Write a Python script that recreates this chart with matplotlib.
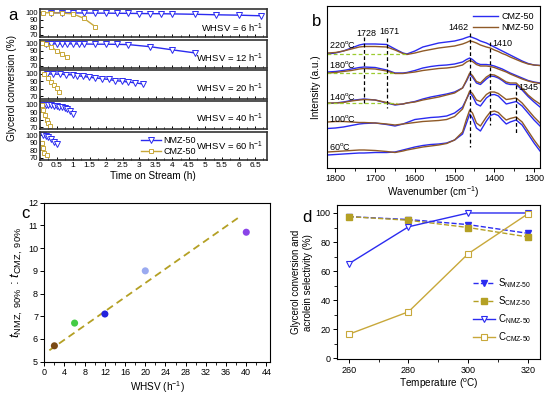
import matplotlib
matplotlib.use('Agg')
import matplotlib.pyplot as plt
from matplotlib.ticker import MultipleLocator, FuncFormatter

plt.rcParams['font.family'] = ['Liberation Sans', 'DejaVu Sans']
plt.rcParams['mathtext.fontset'] = 'custom'
plt.rcParams['mathtext.rm'] = 'Liberation Sans'
plt.rcParams['mathtext.it'] = 'Liberation Sans:italic'
plt.rcParams['mathtext.bf'] = 'Liberation Sans:bold'

# ---------------- Panel a data ----------------
whsv_labels = ['6', '12', '20', '40', '60']
nmz6_t = [0.33, 0.67, 1.0, 1.33, 1.67, 2.0, 2.33, 2.67, 3.0, 3.33, 3.67, 4.0, 4.67, 5.33, 6.0, 6.67]
nmz6_v = [99.5, 99.5, 99.3, 99.2, 99, 99, 98.8, 98.7, 98.5, 98.3, 98.2, 98, 97.5, 96.8, 96.3, 95.5]
cmz6_t = [0.1, 0.33, 0.67, 1.0, 1.33, 1.67]
cmz6_v = [99.5, 99.5, 99, 98, 92, 81]
nmz12_t = [0.17, 0.33, 0.5, 0.67, 0.83, 1.0, 1.17, 1.33, 1.67, 2.0, 2.33, 2.67, 3.33, 4.0, 4.67]
nmz12_v = [99, 99, 99, 99, 99, 99, 98.8, 98.8, 98.5, 98.5, 98.3, 98, 95.2, 91, 87]
cmz12_t = [0.05, 0.17, 0.33, 0.5, 0.67, 0.83]
cmz12_v = [100, 99, 95, 90, 86, 81]
nmz20_t = [0.2, 0.4, 0.6, 0.8, 1.0, 1.13, 1.3, 1.47, 1.67, 1.87, 2.07, 2.27, 2.47, 2.67, 2.87, 3.1]
nmz20_v = [100, 99.5, 99.5, 99, 98.5, 97.5, 96.5, 95.5, 94.5, 93.5, 92.5, 91, 90, 89, 88, 86.5]
cmz20_t = [0.12, 0.25, 0.33, 0.42, 0.5, 0.58]
cmz20_v = [100, 94, 89, 85, 81, 76]
nmz40_t = [0.08, 0.17, 0.25, 0.33, 0.42, 0.5, 0.58, 0.67, 0.75, 0.83, 0.92, 1.0]
nmz40_v = [99.5, 99.5, 99.3, 99, 98.5, 98, 97.3, 96.5, 95.5, 94, 91.5, 87]
cmz40_t = [0.05, 0.1, 0.15, 0.2, 0.25, 0.3]
cmz40_v = [99, 93, 86, 80, 75, 72]
nmz60_t = [0.08, 0.17, 0.25, 0.33, 0.42, 0.5]
nmz60_v = [100, 99, 97, 94.5, 91, 88]
cmz60_t = [0.05, 0.1, 0.13, 0.2]
cmz60_v = [90, 83, 76, 74]

nmz_t = [nmz6_t, nmz12_t, nmz20_t, nmz40_t, nmz60_t]
nmz_v = [nmz6_v, nmz12_v, nmz20_v, nmz40_v, nmz60_v]
cmz_t = [cmz6_t, cmz12_t, cmz20_t, cmz40_t, cmz60_t]
cmz_v = [cmz6_v, cmz12_v, cmz20_v, cmz40_v, cmz60_v]

# ---------------- Panel b data (read offsets, top of plot = small values) ----------------
wn = [1820, 1800, 1780, 1760, 1740, 1728, 1700, 1671, 1650, 1630, 1620, 1600, 1580, 1560, 1540,
      1520, 1500, 1480, 1470, 1462, 1455, 1445, 1435, 1420, 1410, 1400, 1390, 1380, 1370, 1360,
      1345, 1330, 1315, 1300, 1285]
temps = ['220', '180', '140', '100', '60']
cmz_220 = [54, 53, 51, 48, 45, 44, 44, 44.5, 49, 53, 54, 51, 47, 45, 43, 42, 41, 39, 37.5, 36.5,
           37.5, 39, 41, 43, 45, 47, 49, 51, 53, 55, 58, 61, 63.5, 65, 65.5]
nmz_220 = [53, 52.5, 51, 49, 47, 46.5, 46.5, 47, 50, 53.5, 54.5, 53, 51, 49.5, 48, 47, 46, 44, 42.5, 41,
           41.5, 43, 45, 47, 48, 50, 51.5, 53.5, 55, 57, 59.5, 62, 64, 65, 65.5]
cmz_180 = [72, 71.5, 70.5, 69, 67.5, 67, 67.5, 70, 73, 73, 72.5, 70.5, 68, 66.5, 65.5, 65, 64, 62, 59.5, 58,
           59.5, 63, 64.5, 64.5, 65, 66, 67.5, 69, 71, 73, 75.5, 78, 80.5, 82, 83]
nmz_180 = [73, 72.5, 71.5, 70.5, 69, 68.5, 69, 71, 73.5, 73.5, 73, 72, 70.5, 69.5, 68.5, 68, 67, 65, 62, 60.5,
           61.5, 64.5, 66, 66, 66.5, 67.5, 69, 70.5, 72, 74, 76.5, 79, 81, 82.5, 83.5]
cmz_140 = [103.5, 103, 102, 100.5, 99.5, 99, 100, 103, 105, 104, 103, 101.5, 99, 97, 95.5, 94, 92, 88, 81, 74.5,
           77, 83, 84.5, 79, 76, 76.5, 78, 80.5, 83.5, 84.5, 84.5, 90, 96.5, 102, 107]
nmz_140 = [103, 103, 102.5, 101, 100, 99.5, 100, 102.5, 104.5, 104, 103, 102, 100, 98.5, 97, 95, 93, 88, 80, 73,
           75.5, 81.5, 83, 77, 74.5, 75, 77, 79.5, 82, 83, 83, 88.5, 95, 100, 104]
cmz_100 = [128.5, 128, 127, 125.5, 124, 123.5, 123, 124.5, 126, 124, 122.5, 119.5, 118.5, 117.5, 117, 116, 113, 107, 99, 93,
           96, 104, 106, 98, 95, 94.5, 96, 100, 104, 103, 101.5, 106, 113, 120, 126]
nmz_100 = [122, 121.5, 121.5, 122, 122.5, 122.5, 123, 124, 125, 124, 123.5, 122.5, 121.5, 121, 120.5, 119.5, 116.5, 109, 99, 91,
           93.5, 100, 101.5, 94.5, 92, 92, 93.5, 96.5, 99.5, 99, 98, 103, 110, 117, 123]
cmz_60 = [155, 154.5, 154, 153.5, 153, 153, 152.5, 152.5, 152, 150, 149, 147, 145.5, 144.5, 144, 143, 140, 134, 123, 114,
          118, 128, 131, 121, 115.5, 114, 115.5, 120, 124, 122, 120, 125, 134, 143, 151]
nmz_60 = [152, 151.5, 151, 150.5, 150, 150, 150.5, 151.5, 152.5, 151, 150, 148.5, 147, 146, 145, 143.5, 140, 132, 119, 110,
          113, 123, 126, 117, 112, 111, 112.5, 116.5, 120, 118.5, 117, 122, 131, 140, 148]
cmz_b = [cmz_220, cmz_180, cmz_140, cmz_100, cmz_60]
nmz_b = [nmz_220, nmz_180, nmz_140, nmz_100, nmz_60]
temp_label_y = [44, 64, 96, 118, 147]
peak_wn = [1728, 1671, 1462, 1410, 1345]
peak_top = [37, 38, 33, 42, 85]
peak_bot = [103, 108, 147, 125, 133]
green_y = [54, 73.5, 103.5]
green_end = [1620, 1650, 1645]

# ---------------- Panel c data ----------------
whsv_c = [2, 6, 12, 20, 40]
ratio_c = [5.7, 6.7, 7.1, 9.0, 10.7]
colors_c = ['#7a4a14', '#44cc44', '#2222dd', '#9aaaf0', '#8a44e8']
fit_x = [1.0, 38.5]
fit_y = [5.5, 11.35]

# ---------------- Panel d data ----------------
temp_d = [260, 280, 300, 320]
s_nmz = [97.5, 95.5, 92, 86]
s_cmz = [97.5, 95, 90, 83.5]
c_nmz = [65, 90.5, 100, 100]
c_cmz = [16.5, 32, 72, 99.5]

BLUE = '#2b2bf0'
GOLD = '#c8a83a'
BROWN = '#8f5a28'
OLIVE = '#b4a024'

W, H = 550, 394
fig = plt.figure(figsize=(W / 100, H / 100), dpi=100)


def px_axes(left, top, right, bottom):
    return fig.add_axes([left / W, 1 - bottom / H, (right - left) / W, (bottom - top) / H])


# ---------------- Panel a ----------------
a_h = 28.2
for i in range(5):
    top = 9 + i * 30.7
    ax = px_axes(40, top, 266.7, top + a_h)
    ln1, = ax.plot(nmz_t[i], nmz_v[i], '-v', color=BLUE, mfc='white', mec=BLUE, ms=3.8, lw=1.0, mew=0.7,
                   label='NMZ-50')
    ln2, = ax.plot(cmz_t[i], cmz_v[i], '-s', color=GOLD, mfc='white', mec=GOLD, ms=3.4, lw=1.0, mew=0.7,
                   label='CMZ-50')
    ax.set_xlim(0, 6.85)
    ax.set_ylim(67, 104.5)
    ax.set_yticks([70, 80, 90, 100])
    ax.xaxis.set_major_locator(MultipleLocator(0.5))
    ax.xaxis.set_minor_locator(MultipleLocator(0.25))
    ax.tick_params(direction='in', labelsize=5.5, length=2.5, width=0.7, pad=1.2)
    ax.tick_params(which='minor', direction='in', length=1.5, width=0.6)
    for s in ax.spines.values():
        s.set_linewidth(1.2)
        s.set_color('#333333')
    ypos = [0.3, 0.35, 0.37, 0.38, 0.48][i]
    ax.text(0.985, ypos, 'WHSV = %s h$^{-1}$' % whsv_labels[i], transform=ax.transAxes,
            ha='right', va='center', fontsize=6.8)
    if i < 4:
        ax.set_xticklabels([])
    else:
        ax.xaxis.set_major_formatter(FuncFormatter(lambda v, p: '%g' % v))
        ax.tick_params(axis='x', labelsize=6)
        ax.set_xlabel('Time on Stream (h)', fontsize=7.2, labelpad=1.5)
        ax.legend(handles=[ln1, ln2], loc='center left', bbox_to_anchor=(0.43, 0.5), frameon=False,
                  fontsize=6.5, handlelength=2.2, borderaxespad=0, labelspacing=0.25, handletextpad=0.3)

fig.text(12 / W, 1 - 88 / H, 'Glycerol conversion (%)', rotation=90, ha='center', va='center', fontsize=7.2)
fig.text(13 / W, 1 - 16 / H, 'a', ha='center', va='center', fontsize=12)

# ---------------- Panel b ----------------
axb = px_axes(326.7, 6, 540, 168)
for i in range(5):
    axb.plot(wn, cmz_b[i], color=BLUE, lw=1.0, label='CMZ-50' if i == 0 else None)
    axb.plot(wn, nmz_b[i], color=BROWN, lw=1.0, label='NMZ-50' if i == 0 else None)
    axb.text(1815, temp_label_y[i], temps[i] + '$^{\\rm o}$C', ha='left', va='center', fontsize=6.5)
for k in range(5):
    axb.plot([peak_wn[k], peak_wn[k]], [peak_top[k], peak_bot[k]], ls=(0, (3, 2)), color='black', lw=0.9)
for k in range(3):
    axb.plot([1822, green_end[k]], [green_y[k], green_y[k]], ls=(0, (3, 2)), color='#9ccc30', lw=0.9)
axb.text(1723, 33, '1728', ha='center', va='center', fontsize=6.5)
axb.text(1665, 32, '1671', ha='center', va='center', fontsize=6.5)
axb.text(1466, 28, '1462', ha='right', va='center', fontsize=6.5)
axb.text(1405, 43, '1410', ha='left', va='center', fontsize=6.5)
axb.text(1340, 88, '1345', ha='left', va='center', fontsize=6.5)
axb.set_xlim(1822, 1285)
axb.set_ylim(168, 6)
axb.set_yticks([])
axb.xaxis.set_major_locator(MultipleLocator(100))
axb.xaxis.set_minor_locator(MultipleLocator(50))
axb.tick_params(direction='out', labelsize=6.5, length=3, width=0.7, pad=1.5)
axb.tick_params(which='minor', length=2)
axb.set_xlabel('Wavenumber (cm$^{-1}$)', fontsize=7.2, labelpad=1)
axb.set_ylabel('Intensity (a.u.)', fontsize=7.2, labelpad=4)
axb.legend(loc='upper right', frameon=False, fontsize=6.5, handlelength=2.8, borderaxespad=0.3,
           labelspacing=0.2, handletextpad=0.3)
fig.text(317 / W, 1 - 22 / H, 'b', ha='center', va='center', fontsize=12)

# ---------------- Panel c ----------------
axc = px_axes(44.3, 202.7, 270, 361.7)
axc.plot(fit_x, fit_y, ls=(0, (4, 2.5)), color=OLIVE, lw=1.3, zorder=1)
axc.scatter(whsv_c, ratio_c, c=colors_c, s=26, zorder=3, edgecolors='none')
axc.set_xlim(0, 44.7)
axc.set_ylim(5, 12)
axc.xaxis.set_major_locator(MultipleLocator(4))
axc.xaxis.set_minor_locator(MultipleLocator(2))
axc.yaxis.set_major_locator(MultipleLocator(1))
axc.tick_params(direction='out', labelsize=6.5, length=3, width=0.7, pad=1.5)
axc.tick_params(which='minor', length=2)
axc.set_xlabel('WHSV (h$^{-1}$)', fontsize=7.2, labelpad=1.5)
axc.set_ylabel('$t_{\\rm NMZ,\\ 90\\%}$ : $t_{\\rm CMZ,\\ 90\\%}$', fontsize=9.5, labelpad=2)
fig.text(25 / W, 1 - 213 / H, 'c', ha='center', va='center', fontsize=12)

# ---------------- Panel d ----------------
axd = px_axes(336.7, 205, 540, 359.3)
axd.plot(temp_d, s_nmz, ls='--', marker='v', color=BLUE, mfc=BLUE, ms=4.5, lw=1.0, label='S$_{\\rm NMZ\\text{-}50}$')
axd.plot(temp_d, s_cmz, ls='--', marker='s', color=OLIVE, mfc=OLIVE, ms=4, lw=1.0, label='S$_{\\rm CMZ\\text{-}50}$')
axd.plot(temp_d, c_nmz, ls='-', marker='v', color=BLUE, mfc='white', ms=5, lw=1.0, mew=0.8, label='C$_{\\rm NMZ\\text{-}50}$')
axd.plot(temp_d, c_cmz, ls='-', marker='s', color=GOLD, mfc='white', ms=4.5, lw=1.0, mew=0.8, label='C$_{\\rm CMZ\\text{-}50}$')
axd.set_xlim(256, 324)
axd.set_ylim(-0.7, 105.5)
axd.set_xticks(temp_d)
axd.xaxis.set_minor_locator(MultipleLocator(10))
axd.yaxis.set_major_locator(MultipleLocator(20))
axd.yaxis.set_minor_locator(MultipleLocator(10))
axd.tick_params(direction='out', labelsize=6.5, length=3, width=0.7, pad=1.5)
axd.tick_params(which='minor', length=2)
axd.set_xlabel('Temperature ($^{\\rm o}$C)', fontsize=7.2, labelpad=1.5)
axd.set_ylabel('Glycerol conversion and\nacrolein selectivity (%)', fontsize=7, labelpad=2)
axd.legend(loc='lower right', bbox_to_anchor=(1.0, 0.04), frameon=False, fontsize=7, handlelength=2.2,
           labelspacing=0.45, handletextpad=0.3)
fig.text(307 / W, 1 - 217 / H, 'd', ha='center', va='center', fontsize=12)

fig.savefig('out.png', dpi=100)
